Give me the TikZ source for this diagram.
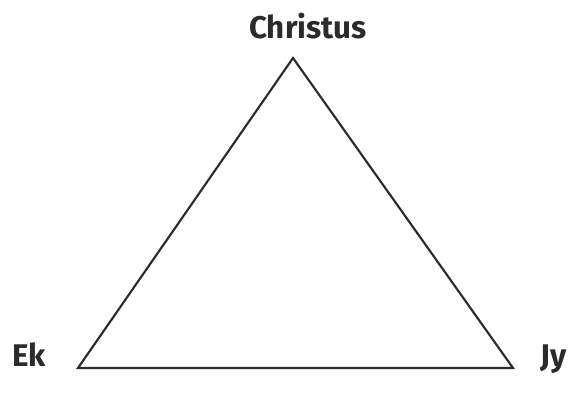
\documentclass[tikz,border=0pt]{standalone}
\usepackage{fontspec}
\setmainfont{Fira Sans}
\definecolor{ink}{HTML}{2B2B2B}
\begin{document}
\begin{tikzpicture}[x=0.75pt,y=-0.75pt,
  lbl/.style={font=\fontsize{23.5}{26}\selectfont\bfseries, text=ink, inner sep=0pt},
  edge/.style={draw=ink, line width=1.6pt, line join=miter}]
\useasboundingbox (0,0) rectangle (580,401);
\coordinate (top) at (293,58);
\coordinate (bl) at (78,368);
\coordinate (br) at (513,368);
\draw[edge] (top) -- (bl) -- (br) -- cycle;
\node[lbl, anchor=base] (c) at (308,38) {Christus};
\node[lbl, anchor=base west] (ek) at (12,366) {Ek};
\node[lbl, anchor=base west] (jy) at (540,366) {Jy};
\end{tikzpicture}
\end{document}
